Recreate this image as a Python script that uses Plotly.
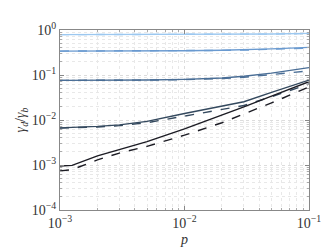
import plotly.graph_objects as go

p = [1e-3, 1.25e-3, 2e-3, 3e-3, 5e-3, 1e-2, 2e-2, 3e-2, 5e-2, 1e-1]

c1_solid = [0.79, 0.79, 0.79, 0.79, 0.792, 0.795, 0.80, 0.805, 0.815, 0.84]
c1_dash = [0.788, 0.788, 0.788, 0.788, 0.79, 0.793, 0.797, 0.802, 0.811, 0.835]
c2_solid = [0.340, 0.340, 0.340, 0.341, 0.343, 0.347, 0.356, 0.365, 0.380, 0.41]
c2_dash = [0.340, 0.340, 0.340, 0.340, 0.341, 0.345, 0.352, 0.358, 0.370, 0.395]
c3_solid = [0.076, 0.076, 0.0763, 0.0767, 0.0775, 0.080, 0.086, 0.094, 0.110, 0.146]
c3_dash = [0.0758, 0.0758, 0.076, 0.0763, 0.077, 0.079, 0.083, 0.089, 0.101, 0.124]
c4_solid = [0.0067, 0.0068, 0.0072, 0.0078, 0.0093, 0.0139, 0.0202, 0.0254, 0.041, 0.077]
c4_dash = [0.0066, 0.0067, 0.0070, 0.0075, 0.0087, 0.0122, 0.0172, 0.021, 0.033, 0.063]
c5_solid = [0.00095, 0.00098, 0.0016, 0.0022, 0.0033, 0.00635, 0.0127, 0.0195, 0.034, 0.071]
c5_dash = [0.00074, 0.00079, 0.0013, 0.00184, 0.0026, 0.0046, 0.0087, 0.0134, 0.024, 0.054]

colors = ["#9cc8f0", "#6a9ad0", "#4a6e96", "#34495e", "#1c1c24"]
solids = [c1_solid, c2_solid, c3_solid, c4_solid, c5_solid]
dashes = [c1_dash, c2_dash, c3_dash, c4_dash, c5_dash]

ytick_vals = [1e-4, 1e-3, 1e-2, 1e-1, 1e0]
ytick_text = ["10<sup>−4</sup>", "10<sup>−3</sup>", "10<sup>−2</sup>", "10<sup>−1</sup>", "10<sup>0</sup>"]
xtick_vals = [1e-3, 1e-2, 1e-1]
xtick_text = ["10<sup>−3</sup>", "10<sup>−2</sup>", "10<sup>−1</sup>"]
y_minor = [m * 10.0 ** e for e in range(-4, 0) for m in range(2, 10)]
x_minor = [m * 10.0 ** e for e in range(-3, -1) for m in range(2, 10)]

fig = go.Figure()
for col, s, d in zip(colors, solids, dashes):
    fig.add_trace(go.Scatter(x=p, y=d, mode="lines", line=dict(color=col, width=1.4, dash="dash"), showlegend=False))
    fig.add_trace(go.Scatter(x=p, y=s, mode="lines", line=dict(color=col, width=1.4), showlegend=False))

font = dict(family="Liberation Serif, DejaVu Serif, serif", size=14, color="#333")
axis_common = dict(
    type="log", showline=True, linecolor="#888", linewidth=1, mirror="ticks",
    ticks="inside", ticklen=4, tickcolor="#888",
    showgrid=True, gridcolor="#dcdcdc", griddash="dot", gridwidth=1,
    zeroline=False, tickfont=font,
)
fig.update_xaxes(range=[-3, -1], tickvals=xtick_vals, ticktext=xtick_text,
                 minor=dict(tickvals=x_minor, ticks="inside", ticklen=2, tickcolor="#aaa", showgrid=True,
                            gridcolor="#e8e8e8", griddash="dot", gridwidth=1),
                 title=dict(text="<i>p</i>", font=font, standoff=4), **axis_common)
fig.update_yaxes(range=[-4, 0], tickvals=ytick_vals, ticktext=ytick_text,
                 minor=dict(tickvals=y_minor, ticks="inside", ticklen=2, tickcolor="#aaa", showgrid=True,
                            gridcolor="#e8e8e8", griddash="dot", gridwidth=1),
                 title=dict(text="<i>γ<sub>d</sub></i>/<i>γ<sub>b</sub></i>", font=font, standoff=2),
                 **axis_common)
fig.update_layout(
    width=332, height=249,
    margin=dict(l=48, r=31, t=18, b=38),
    plot_bgcolor="white", paper_bgcolor="white",
    font=font,
)
fig.write_html("out.html")
